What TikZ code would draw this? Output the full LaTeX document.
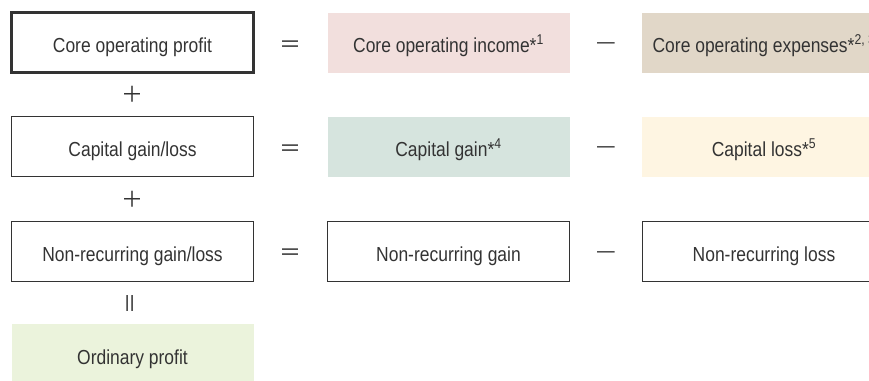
\documentclass[tikz,border=0pt]{standalone}
\usepackage{fontspec}
\setmainfont[FakeStretch=0.86]{Liberation Sans}
\newfontfamily\cjk{Noto Sans CJK JP}
\usepackage{xcolor}
\usetikzlibrary{positioning}
\definecolor{txtgray}{HTML}{333333}
\definecolor{incpink}{HTML}{F2DFDD}
\definecolor{exptan}{HTML}{E1D7C8}
\definecolor{gaingreen}{HTML}{D6E4DE}
\definecolor{losscream}{HTML}{FEF5E2}
\definecolor{ordgreen}{HTML}{EBF3DC}
\tikzset{
    item/.style={
        rectangle,
        minimum width=242pt,
        minimum height=60pt,
        inner sep=0pt,
        text height=20pt,
        text depth=0pt,
        text=txtgray,
        font=\fontsize{20.3}{23}\selectfont
    },
    outlined/.style={item, draw=txtgray, line width=0.9pt},
    op/.style={
        text=txtgray,
        inner sep=0pt,
        font=\cjk\fontsize{22}{24}\selectfont
    }
}

\begin{document}
\begin{tikzpicture}[x=1pt, y=-1pt]
    \useasboundingbox (0,0) rectangle (869,380);
    \clip (0,0) rectangle (869,380);

    % Left column: the profit items
    \node[outlined, line width=2.6pt] (core) at (132.5,42.5) {Core operating profit};
    \node[outlined] (cap) at (132.5,146.5) {Capital gain/loss};
    \node[outlined] (nonrec) at (132.5,251) {Non-recurring gain/loss};
    \node[item, fill=ordgreen] (ord) at (132.5,354) {Ordinary profit};

    % Middle column: gains
    \node[item, fill=incpink] (coreinc) at (448.5,42.5) {Core operating income*\textsuperscript{1}};
    \node[item, fill=gaingreen] (capgain) at (448.5,146.5) {Capital gain*\textsuperscript{4}};
    \node[outlined] (nrgain) at (448.5,251) {Non-recurring gain};

    % Right column: losses (cut at the page edge)
    \node[item, minimum width=244pt, fill=exptan] (coreexp) at (764,42.5) {Core operating expenses*\textsuperscript{2, 3}};
    \node[item, minimum width=244pt, fill=losscream] (caploss) at (764,146.5) {Capital loss*\textsuperscript{5}};
    \node[outlined, minimum width=244pt] (nrloss) at (764,251) {Non-recurring loss};

    % Operators between the columns
    \node[op] (eqa) at (290,46.5) {＝};
    \node[op] (eqb) at (290,150.5) {＝};
    \node[op] (eqc) at (290,255) {＝};
    \node[op] (mia) at (606,46.5) {—};
    \node[op] (mib) at (606,150.5) {—};
    \node[op] (mic) at (606,255) {—};

    % Operators between the rows
    \node[op] (pla) at (132.5,94) {＋};
    \node[op] (plb) at (132.5,199) {＋};
    \node[op, rotate=90] (eqd) at (132.5,303) {＝};
\end{tikzpicture}
\end{document}
